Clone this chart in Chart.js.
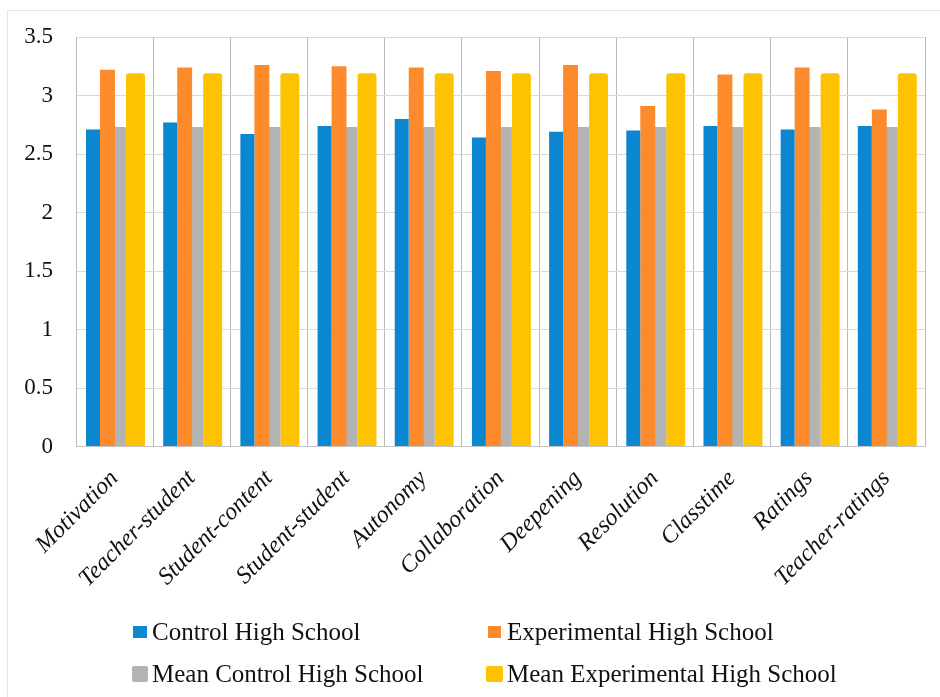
<!DOCTYPE html>
<html>
<head>
<meta charset="utf-8">
<script src="https://cdn.jsdelivr.net/npm/chart.js@4.4.1/dist/chart.umd.min.js"></script>
<style>
  html, body { margin: 0; padding: 0; background: #fff; }
  #wrap { position: relative; width: 940px; height: 697px; overflow: hidden; }
  #frame { position: absolute; left: 7px; top: 10px; width: 980px; height: 720px;
           border-left: 1px solid #e4e4e4; border-top: 1px solid #e4e4e4; }
  #chart { position: absolute; left: 0; top: 0; }
  .legText { position: absolute; font-family: "Liberation Serif", "Times New Roman", serif; font-size: 25px;
             line-height: 24px; color: #111; white-space: nowrap; }
  .legBox { position: absolute; }
</style>
</head>
<body>
<div id="wrap">
  <div id="frame"></div>
  <canvas id="chart" width="940" height="697"></canvas>
</div>
<script>
const categories = ['Motivation', 'Teacher-student', 'Student-content', 'Student-student', 'Autonomy',
  'Collaboration', 'Deepening', 'Resolution', 'Classtime', 'Ratings', 'Teacher-ratings'];
const controlHS = [2.71, 2.77, 2.67, 2.74, 2.80, 2.64, 2.69, 2.70, 2.74, 2.71, 2.74];
const experimentalHS = [3.22, 3.24, 3.26, 3.25, 3.24, 3.21, 3.26, 2.91, 3.18, 3.24, 2.88];
const meanControlHS = [2.73, 2.73, 2.73, 2.73, 2.73, 2.73, 2.73, 2.73, 2.73, 2.73, 2.73];
const meanExperimentalHS = [3.19, 3.19, 3.19, 3.19, 3.19, 3.19, 3.19, 3.19, 3.19, 3.19, 3.19];
const seriesNames = ['Control High School', 'Experimental High School',
  'Mean Control High School', 'Mean Experimental High School'];
const yTicks = [0, 0.5, 1, 1.5, 2, 2.5, 3, 3.5];

const colors = ['#0a87d0', '#fd8a2b', '#b3b3b3', '#fec300'];
const serif = '"Liberation Serif", "Times New Roman", serif';

// the bars in the original sit a bit unevenly (means overlap), so each one gets its own slot tuning
const datasets = [
  { label: seriesNames[0], data: controlHS, backgroundColor: colors[0],
    categoryPercentage: 0.746, barPercentage: 0.97 },
  { label: seriesNames[1], data: experimentalHS, backgroundColor: colors[1],
    categoryPercentage: 0.736, barPercentage: 1.05 },
  { label: seriesNames[2], data: meanControlHS, backgroundColor: colors[2],
    categoryPercentage: 0.456, barPercentage: 1.59, borderRadius: 1 },
  { label: seriesNames[3], data: meanExperimentalHS, backgroundColor: colors[3],
    categoryPercentage: 0.722, barPercentage: 1.36, borderRadius: 3, borderSkipped: 'bottom' },
];

const ctx = document.getElementById('chart').getContext('2d');

new Chart(ctx, {
  type: 'bar',
  data: { labels: categories, datasets: datasets },
  options: {
    responsive: false,
    animation: false,
    layout: { padding: { left: 0, top: 37, right: 15, bottom: 0 } },
    plugins: { legend: { display: false }, tooltip: { enabled: false } },
    scales: {
      x: {
        grid: { offset: true, color: '#b9b9b9', lineWidth: 1, drawTicks: false },
        border: { color: '#c4c4c4' },
        ticks: {
          color: '#111',
          font: { family: serif, size: 24, style: 'italic' },
          minRotation: 45, maxRotation: 45, padding: 18, autoSkip: false,
        },
        afterFit: function (scale) { scale.height = 250.5; },
      },
      y: {
        min: 0, max: 3.5,
        afterBuildTicks: function (scale) {
          scale.ticks = yTicks.map(function (v) { return { value: v }; });
        },
        grid: { color: '#d9d9d9', lineWidth: 1, drawTicks: false },
        border: { color: '#b9b9b9' },
        ticks: {
          color: '#111',
          font: { family: serif, size: 23 },
          padding: 23,
          callback: function (value) { return String(value); },
        },
        afterFit: function (scale) { scale.width = 76; },
      },
    },
  },
});

// legend laid out in two columns like the original
const legendPos = [
  { box: [133, 626, 14, 12, 0], text: [152, 620] },
  { box: [488, 626, 13, 12, 0], text: [507, 620] },
  { box: [132, 666, 16, 16, 2], text: [152, 662] },
  { box: [486, 666, 17, 16, 2], text: [507, 662] },
];
const wrap = document.getElementById('wrap');
datasets.forEach(function (ds, i) {
  const p = legendPos[i];
  const box = document.createElement('div');
  box.className = 'legBox';
  box.style.left = p.box[0] + 'px';
  box.style.top = p.box[1] + 'px';
  box.style.width = p.box[2] + 'px';
  box.style.height = p.box[3] + 'px';
  box.style.borderRadius = p.box[4] + 'px';
  box.style.background = ds.backgroundColor;
  wrap.appendChild(box);
  const t = document.createElement('div');
  t.className = 'legText';
  t.style.left = p.text[0] + 'px';
  t.style.top = p.text[1] + 'px';
  t.textContent = ds.label;
  wrap.appendChild(t);
});
</script>
</body>
</html>
